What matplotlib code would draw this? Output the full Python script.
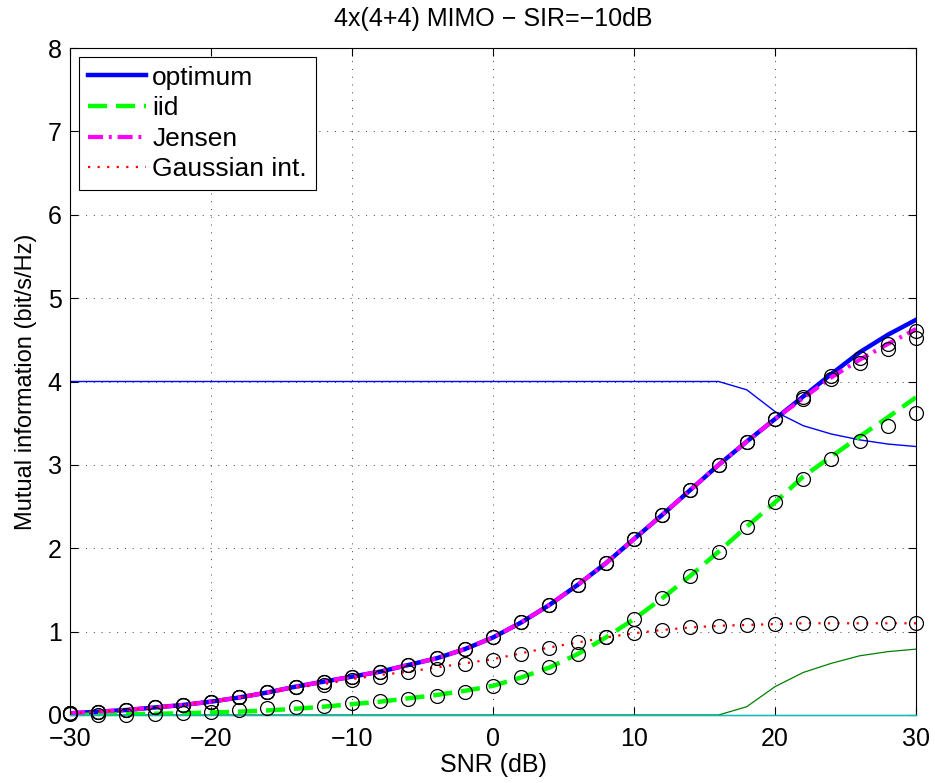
import numpy as np
import matplotlib
matplotlib.use('Agg')
import matplotlib.pyplot as plt

# SNR grid (dB)
snr = np.arange(-30, 31, 2)

# analytic curves
optimum = [0.02, 0.04, 0.06, 0.09, 0.12, 0.16, 0.21, 0.27, 0.34, 0.40, 0.46,
           0.52, 0.60, 0.68, 0.79, 0.93, 1.11, 1.32, 1.56, 1.82, 2.11, 2.40,
           2.70, 3.00, 3.28, 3.55, 3.82, 4.09, 4.35, 4.56, 4.74]
iid = [0.0, 0.005, 0.01, 0.015, 0.02, 0.03, 0.04, 0.055, 0.075, 0.10, 0.13,
       0.16, 0.20, 0.24, 0.29, 0.35, 0.45, 0.57, 0.73, 0.93, 1.15, 1.40,
       1.67, 1.96, 2.26, 2.55, 2.86, 3.10, 3.34, 3.57, 3.81]
jensen = [0.02, 0.04, 0.06, 0.09, 0.12, 0.16, 0.21, 0.27, 0.34, 0.40, 0.46,
          0.52, 0.60, 0.68, 0.79, 0.93, 1.11, 1.32, 1.56, 1.82, 2.11, 2.40,
          2.70, 3.00, 3.28, 3.55, 3.80, 4.05, 4.26, 4.45, 4.63]
gauss = [0.02, 0.04, 0.06, 0.09, 0.12, 0.16, 0.21, 0.27, 0.33, 0.37, 0.43,
         0.48, 0.52, 0.57, 0.62, 0.67, 0.74, 0.81, 0.87, 0.93, 0.98, 1.02,
         1.05, 1.07, 1.08, 1.09, 1.10, 1.10, 1.10, 1.10, 1.10]

# simulated points (circles)
sim_opt = [0.02, 0.04, 0.06, 0.09, 0.12, 0.16, 0.21, 0.27, 0.34, 0.40, 0.46,
           0.52, 0.60, 0.68, 0.79, 0.93, 1.11, 1.32, 1.56, 1.82, 2.11, 2.40,
           2.70, 3.00, 3.28, 3.55, 3.82, 4.06, 4.28, 4.45, 4.60]
sim_jensen = [0.02, 0.04, 0.06, 0.09, 0.12, 0.16, 0.21, 0.27, 0.34, 0.40, 0.46,
              0.52, 0.60, 0.68, 0.79, 0.93, 1.11, 1.32, 1.56, 1.82, 2.11, 2.40,
              2.70, 3.00, 3.28, 3.55, 3.79, 4.03, 4.22, 4.39, 4.52]
sim_iid = [0.01, 0.0, 0.0, 0.01, 0.02, 0.04, 0.06, 0.08, 0.10, 0.11, 0.14,
           0.17, 0.19, 0.23, 0.28, 0.35, 0.45, 0.57, 0.73, 0.93, 1.15, 1.40,
           1.67, 1.96, 2.26, 2.55, 2.83, 3.07, 3.29, 3.47, 3.62]
sim_gauss = [0.02, 0.04, 0.06, 0.09, 0.12, 0.16, 0.21, 0.27, 0.33, 0.36, 0.42,
             0.46, 0.51, 0.55, 0.61, 0.66, 0.73, 0.80, 0.87, 0.93, 0.98, 1.02,
             1.05, 1.07, 1.08, 1.09, 1.10, 1.10, 1.10, 1.10, 1.10]

# thin auxiliary curves
aux_blue = [4.0]*24 + [3.90, 3.64, 3.47, 3.37, 3.30, 3.25, 3.22]
aux_green = [0.0]*24 + [0.10, 0.34, 0.51, 0.62, 0.71, 0.76, 0.79]
aux_teal = [0.0]*31

plt.rcParams['font.family'] = ['Liberation Sans', 'DejaVu Sans']
plt.rcParams['font.size'] = 18

fig = plt.figure(figsize=(9.35, 7.83), dpi=100)
ax = fig.add_axes([70/935, 68/783, 846/935, 667/783])
ax.set_axisbelow(True)

# thin lines first
ax.plot(snr, aux_blue, color=(0, 0, 1), lw=1.0)
ax.plot(snr, aux_green, color=(0, 0.5, 0), lw=0.9)
ax.plot(snr, aux_teal, color=(0, 0.75, 0.75), lw=1.0, zorder=3, clip_on=False)

l1, = ax.plot(snr, optimum, color=(0, 0, 1), lw=3.2, label='optimum')
l2, = ax.plot(snr, iid, color=(0, 1, 0), lw=3.2, ls=(0, (4.3, 2.0)), label='iid')
l3, = ax.plot(snr, jensen, color=(1, 0, 1), lw=3.0,
              ls=(0, (3.6, 1.4, 0.7, 1.4)), label='Jensen')
l4, = ax.plot(snr, gauss, color=(1, 0, 0), lw=1.6, ls=(0, (1, 3.3)),
              label='Gaussian int.')

for s in (sim_opt, sim_jensen, sim_iid, sim_gauss):
    ax.plot(snr, s, ls='none', marker='o', ms=10, mfc='none', mec='k',
            mew=0.9, zorder=4, clip_on=False)

ax.set_xlim(-30, 30)
ax.set_ylim(0, 8)
ax.set_xticks(np.arange(-30, 31, 10))
ax.set_yticks(np.arange(0, 9, 1))
ax.set_xticklabels(['\u221230', '\u221220', '\u221210', '0', '10', '20', '30'])
ax.tick_params(direction='in', length=6, width=0.8, top=True, right=True,
               labelsize=18, pad=9)
ax.tick_params(axis='y', pad=6)
ax.grid(True, color='0.25', ls=(0, (1, 7)), lw=0.7)
for sp in ax.spines.values():
    sp.set_linewidth(0.8)

ax.set_xlabel('SNR (dB)', fontsize=18, labelpad=1)
ax.set_ylabel('Mutual information (bit/s/Hz)', fontsize=17, labelpad=8)
ax.set_title('4x(4+4) MIMO \u2212 SIR=\u221210dB', fontsize=18, pad=16)

leg = ax.legend(handles=[l1, l2, l3, l4], loc='upper left',
                bbox_to_anchor=(9/846, 1 - 9/667), borderaxespad=0,
                fancybox=False, framealpha=1, edgecolor='k', fontsize=19,
                handlelength=2.2, handletextpad=0.25, labelspacing=0.25,
                borderpad=0.33)
leg.get_frame().set_linewidth(0.8)

fig.savefig('out.png', dpi=100)
